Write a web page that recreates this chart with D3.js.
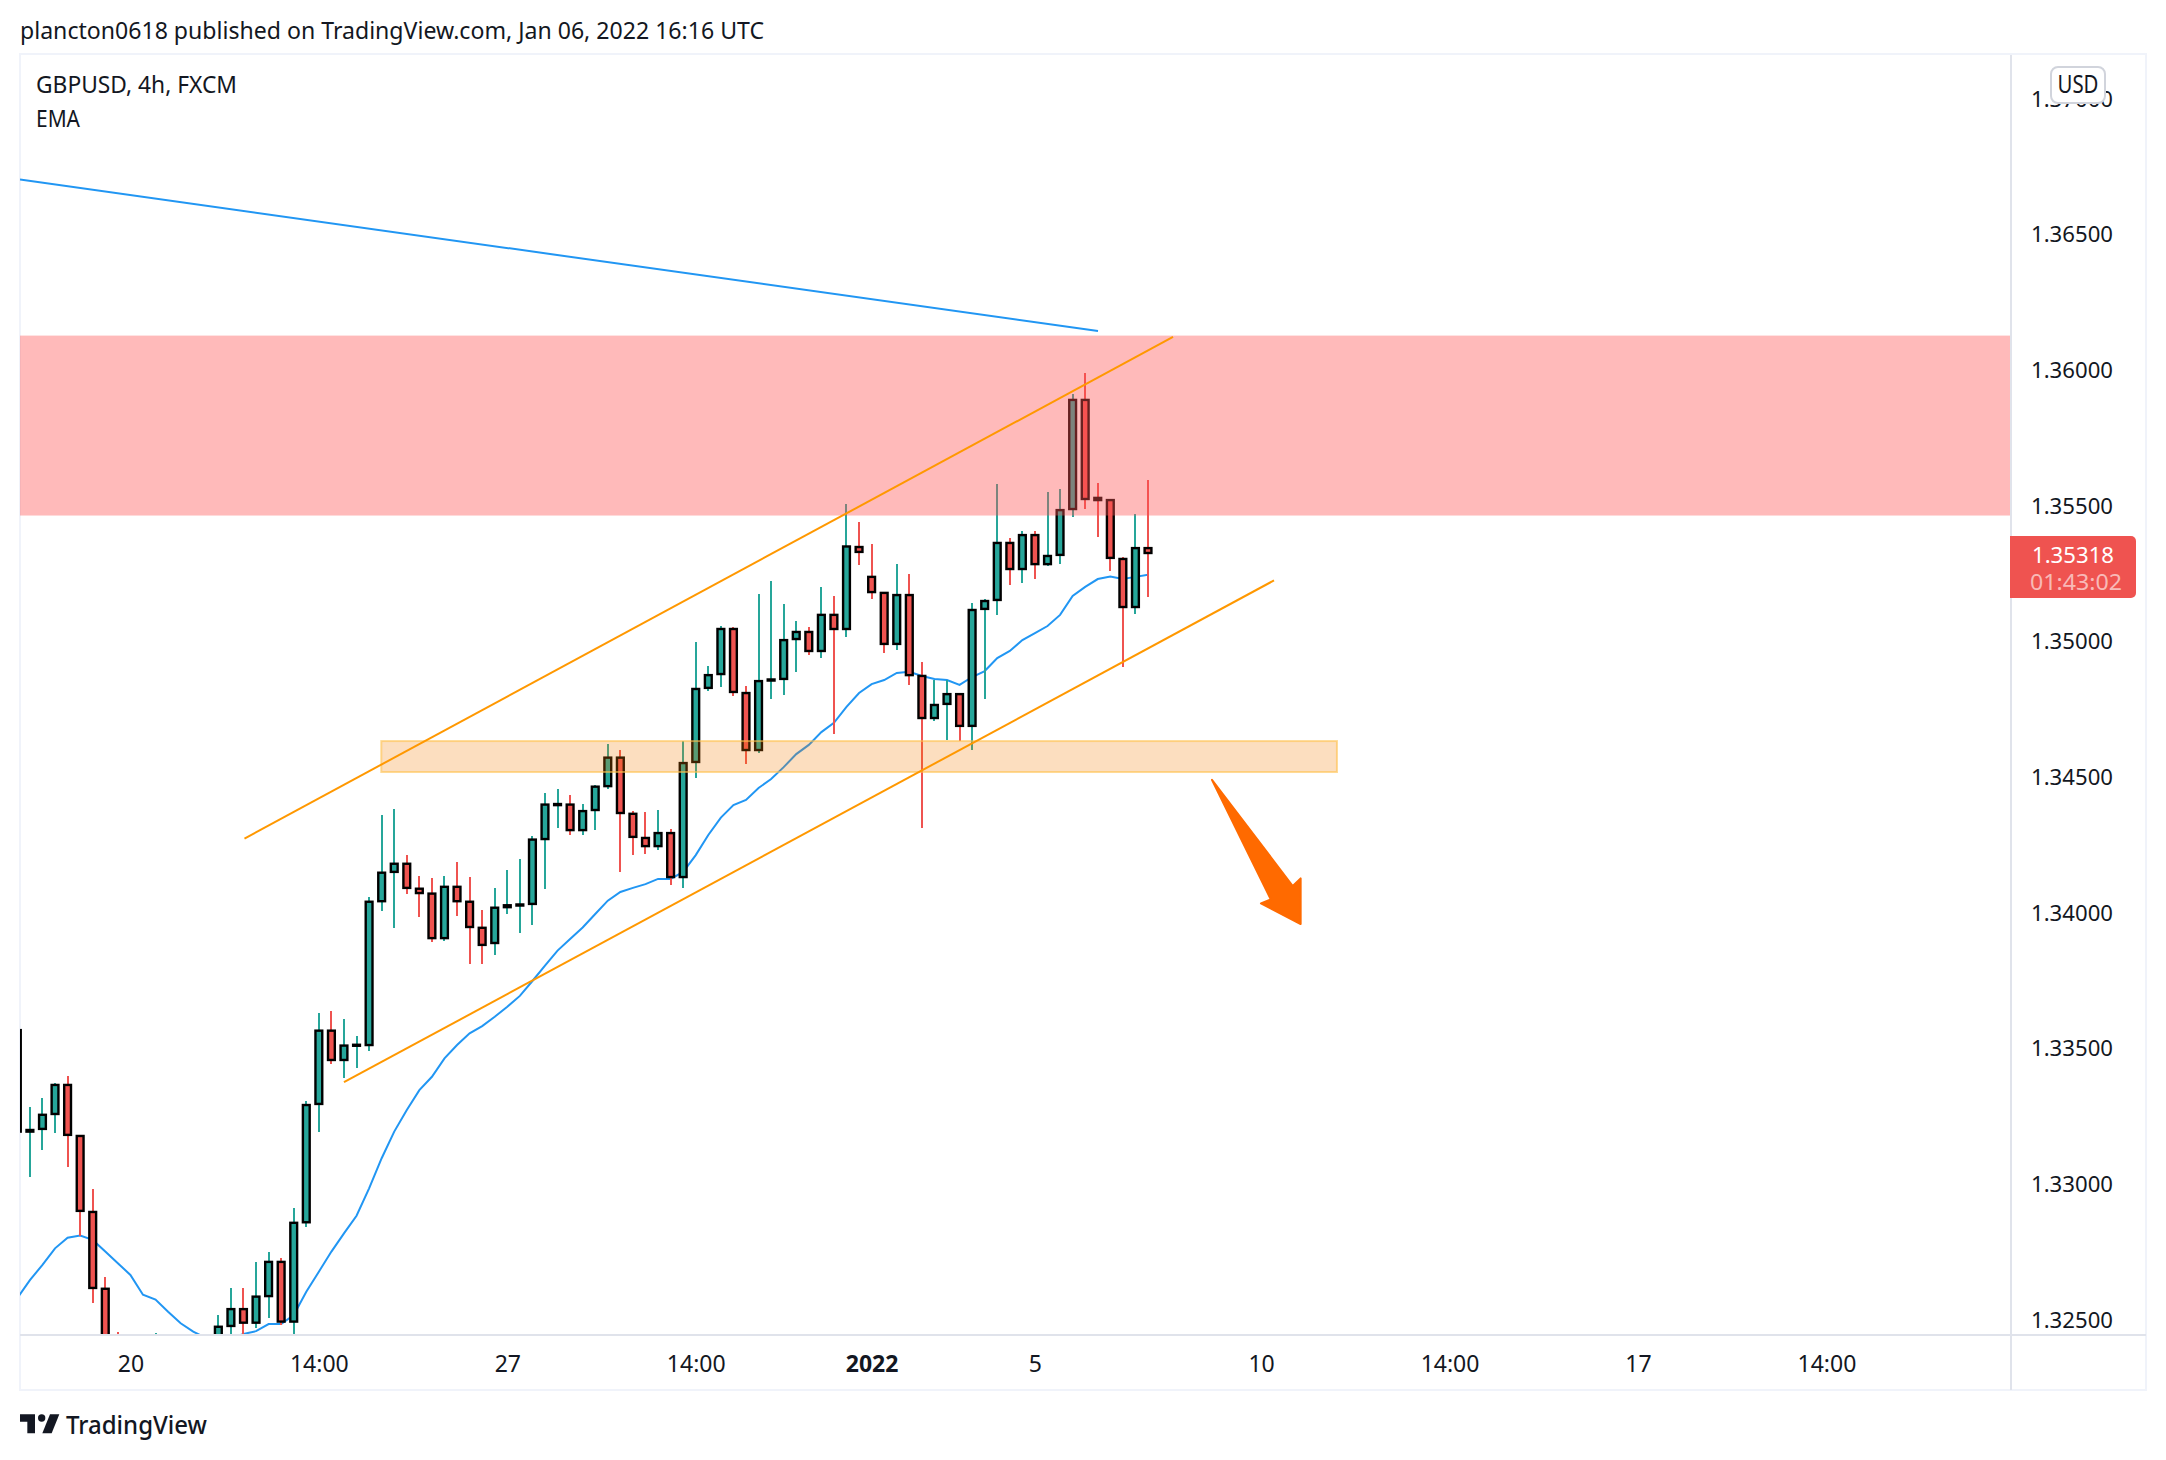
<!DOCTYPE html>
<html>
<head>
<meta charset="utf-8">
<script src="https://cdn.jsdelivr.net/npm/d3@7/dist/d3.min.js"></script>
<style>
html,body{margin:0;padding:0;background:#fff;}
svg{display:block;}
text{font-family:"Noto Sans",sans-serif;fill:#131722;}
</style>
</head>
<body>
<div id="chart"></div>
<script>
// ---- candle data (index = 4h bar count) ----
const open = [1.33560,1.33186,1.33196,1.33251,1.33358,1.33170,1.32890,1.32607,1.32400,1.32380,
1.32330,1.32200,1.32350,1.32250,1.32300,1.32350,1.32390,1.32470,1.32532,1.32482,
1.32580,1.32706,1.32486,1.32852,1.33288,1.33558,1.33450,1.33503,1.33505,1.34035,
1.34143,1.34173,1.34081,1.34063,1.33899,1.34088,1.34033,1.33937,1.33881,1.34013,
1.34019,1.34025,1.34264,1.34389,1.34391,1.34297,1.34371,1.34459,1.34564,1.34357,
1.34268,1.34238,1.34286,1.34124,1.34548,1.34821,1.34872,1.35038,1.34802,1.34592,
1.34848,1.34854,1.35001,1.35027,1.34957,1.35090,1.35038,1.35340,1.35230,1.35171,
1.34983,1.35163,1.34865,1.34710,1.34762,1.34798,1.34681,1.35112,1.35145,1.35355,
1.35259,1.35384,1.35277,1.35311,1.35480,1.35882,1.35521,1.35513,1.35296,1.35119,1.35336];
const high = [1.33560,1.33278,1.33309,1.33364,1.33391,1.33170,1.32975,1.32649,1.32448,1.32420,
1.32400,1.32444,1.32400,1.32380,1.32400,1.32430,1.32510,1.32609,1.32609,1.32705,
1.32741,1.32719,1.32903,1.33299,1.33622,1.33629,1.33601,1.33538,1.34050,1.34353,
1.34375,1.34205,1.34128,1.34121,1.34128,1.34179,1.34124,1.34003,1.34084,1.34150,
1.34191,1.34275,1.34434,1.34448,1.34426,1.34393,1.34463,1.34614,1.34592,1.34367,
1.34364,1.34371,1.34301,1.34624,1.34990,1.34902,1.35049,1.35045,1.34828,1.35167,
1.35215,1.35130,1.35067,1.35045,1.35193,1.35160,1.35499,1.35432,1.35351,1.35171,
1.35277,1.35241,1.34916,1.34850,1.34850,1.34798,1.35134,1.35148,1.35572,1.35373,
1.35399,1.35399,1.35543,1.35554,1.35904,1.35981,1.35576,1.35513,1.35304,1.35462,1.35587];
const low = [1.33186,1.33020,1.33118,1.33182,1.33057,1.32803,1.32553,1.32300,1.32150,1.32150,
1.32150,1.32120,1.32200,1.32180,1.32260,1.32300,1.32350,1.32400,1.32400,1.32464,
1.32498,1.32474,1.32400,1.32836,1.33186,1.33436,1.33385,1.33422,1.33484,1.34000,
1.33936,1.34063,1.33978,1.33886,1.33889,1.33982,1.33805,1.33805,1.33838,1.33989,
1.33919,1.33948,1.34081,1.34306,1.34280,1.34280,1.34298,1.34448,1.34144,1.34206,
1.34210,1.34225,1.34096,1.34085,1.34490,1.34810,1.34824,1.34791,1.34541,1.34582,
1.34780,1.34795,1.34880,1.34942,1.34931,1.34651,1.35008,1.35274,1.35148,1.34950,
1.34961,1.34832,1.34305,1.34699,1.34629,1.34625,1.34592,1.34780,1.35090,1.35200,
1.35207,1.35222,1.35270,1.35277,1.35451,1.35480,1.35377,1.35252,1.34898,1.35093,1.35156];
const close = [1.33186,1.33192,1.33248,1.33358,1.33174,1.32894,1.32610,1.32345,1.32216,1.32220,
1.32200,1.32350,1.32250,1.32310,1.32360,1.32400,1.32467,1.32532,1.32482,1.32578,
1.32706,1.32486,1.32850,1.33284,1.33558,1.33450,1.33503,1.33506,1.34033,1.34140,
1.34173,1.34084,1.34065,1.33899,1.34088,1.34035,1.33940,1.33874,1.34011,1.34020,
1.34023,1.34262,1.34391,1.34393,1.34297,1.34367,1.34457,1.34564,1.34360,1.34272,
1.34238,1.34286,1.34124,1.34544,1.34817,1.34868,1.35038,1.34806,1.34592,1.34846,
1.34852,1.34997,1.35027,1.34957,1.35090,1.35038,1.35342,1.35322,1.35174,1.34983,
1.35163,1.34868,1.34710,1.34758,1.34798,1.34681,1.35108,1.35141,1.35355,1.35259,
1.35384,1.35277,1.35307,1.35476,1.35882,1.35517,1.35513,1.35300,1.35119,1.35336,1.35318];
const ema = [1.32573,1.32639,1.32695,1.32756,1.32795,1.32803,1.32787,1.32744,1.32701,1.32658,
1.32585,1.32567,1.32522,1.32480,1.32449,1.32426,1.32412,1.32426,1.32440,1.32451,
1.32477,1.32477,1.32510,1.32596,1.32670,1.32744,1.32811,1.32876,1.32977,1.33088,
1.33186,1.33266,1.33339,1.33388,1.33456,1.33505,1.33548,1.33575,1.33609,1.33646,
1.33686,1.33741,1.33798,1.33853,1.33896,1.33938,1.33988,1.34037,1.34069,1.34084,
1.34098,1.34117,1.34117,1.34143,1.34205,1.34279,1.34343,1.34389,1.34408,1.34452,
1.34485,1.34529,1.34577,1.34611,1.34658,1.34692,1.34751,1.34802,1.34835,1.34850,
1.34876,1.34880,1.34865,1.34854,1.34850,1.34832,1.34861,1.34883,1.34931,1.34957,
1.34997,1.35023,1.35049,1.35090,1.35160,1.35193,1.35222,1.35231,1.35222,1.35230,1.35238];

// ---- axes ----
const priceTicks = [1.325,1.33,1.335,1.34,1.345,1.35,1.355,1.36,1.365,1.37];
const timeTickIndex = [9,24,39,54,68,81,99,114,129,144];
const timeTickLabels = ["20","14:00","27","14:00","2022","5","10","14:00","17","14:00"];

// ---- drawings, anchored at [bar index, price] ----
const blueTrend = [[0.21,1.36694],[86.02,1.36136]];
const channelTop = [[18.08,1.34266],[91.99,1.36114]];
const channelBottom = [[26.0,1.33368],[100.03,1.35217]];
const redZonePrices = [1.36119,1.35456];
const orangeZonePrices = [1.34625,1.34511];
const orangeZoneBars = [28.97,105.04];
const arrow = [[95.09,1.34482],[101.52,1.34091],[102.15,1.34119],[102.15,1.33951],[98.99,1.34027],[99.77,1.34042]];
const lastPrice = 1.35318;

// ---- frame geometry ----
const W = 2166, H = 1460;
const L = 20, R = 2011, T = 55, B = 1334;

const x = d3.scaleLinear().domain([0,100]).range([17.34,1273.64]);
const y = d3.scaleLinear().domain([1.32,1.37]).range([1453.5,96.5]);

const svg = d3.select("#chart").append("svg").attr("width",W).attr("height",H);

svg.append("defs").append("clipPath").attr("id","plot")
  .append("rect").attr("x",L).attr("y",T).attr("width",R-L).attr("height",B-T);

// outer frame
svg.append("rect").attr("x",20).attr("y",54).attr("width",2126).attr("height",1336)
  .attr("fill","none").attr("stroke","#f0f3fa").attr("stroke-width",2);

const plot = svg.append("g").attr("clip-path","url(#plot)");
const line = d3.line().x(d=>x(d[0])).y(d=>y(d[1]));

// EMA
plot.append("path").datum(ema.map((v,i)=>[i,v])).attr("d",line)
  .attr("fill","none").attr("stroke","#2196f3").attr("stroke-width",2);

// candles
const TEAL="#26a69a", RED="#ef5350";
const bars = d3.range(open.length);
const col = i => close[i]>=open[i]?TEAL:RED;
plot.append("g").selectAll("line").data(bars).join("line")
  .attr("x1",i=>x(i)).attr("x2",i=>x(i))
  .attr("y1",i=>y(high[i])).attr("y2",i=>y(low[i]))
  .attr("stroke",col).attr("stroke-width",2).attr("shape-rendering","crispEdges");
plot.append("g").selectAll("rect").data(bars).join("rect")
  .attr("x",i=>x(i)-3.4).attr("width",6.8)
  .attr("y",i=>y(Math.max(open[i],close[i])))
  .attr("height",i=>Math.max(1,Math.abs(y(open[i])-y(close[i]))))
  .attr("fill",col).attr("stroke","#000").attr("stroke-width",2.4);

// zones
plot.append("rect").attr("x",L).attr("width",R-L)
  .attr("y",y(redZonePrices[0])).attr("height",y(redZonePrices[1])-y(redZonePrices[0]))
  .attr("fill","rgba(255,82,82,0.4)");
plot.append("rect").attr("x",x(orangeZoneBars[0])).attr("width",x(orangeZoneBars[1])-x(orangeZoneBars[0]))
  .attr("y",y(orangeZonePrices[0])).attr("height",y(orangeZonePrices[1])-y(orangeZonePrices[0]))
  .attr("fill","rgba(245,124,0,0.25)").attr("stroke","rgba(255,193,77,0.6)").attr("stroke-width",2);

// trend lines
plot.append("path").datum(blueTrend).attr("d",line).attr("fill","none").attr("stroke","#2196f3").attr("stroke-width",2);
plot.append("path").datum(channelTop).attr("d",line).attr("fill","none").attr("stroke","#ff9800").attr("stroke-width",2);
plot.append("path").datum(channelBottom).attr("d",line).attr("fill","none").attr("stroke","#ff9800").attr("stroke-width",2);
plot.append("path").datum(arrow).attr("d",d=>line(d)+"Z")
  .attr("fill","#ff6a00").attr("stroke","#ff6a00").attr("stroke-width",2).attr("stroke-linejoin","round");

// axis separators
svg.append("line").attr("x1",R).attr("x2",R).attr("y1",55).attr("y2",1390).attr("stroke","#e0e3eb").attr("stroke-width",2);
svg.append("line").attr("x1",L).attr("x2",2146).attr("y1",1335).attr("y2",1335).attr("stroke","#e0e3eb").attr("stroke-width",2);

// price axis
const yAxis = svg.append("g").attr("transform",`translate(${R},2.5)`)
  .call(d3.axisRight(y).tickValues(priceTicks).tickFormat(d3.format(".5f")).tickSize(0).tickPadding(20));
yAxis.select(".domain").remove();
yAxis.selectAll("text").style("font-family",'"Noto Sans",sans-serif').style("font-size","22px").style("fill","#131722")
  .attr("textLength",82).attr("lengthAdjust","spacingAndGlyphs");

// time axis
const xAxis = svg.append("g").attr("transform",`translate(0,${B})`)
  .call(d3.axisBottom(x).tickValues(timeTickIndex)
    .tickFormat((d,i)=>timeTickLabels[i]).tickSize(0).tickPadding(22));
xAxis.select(".domain").remove();
xAxis.selectAll("text").style("font-family",'"Noto Sans",sans-serif').style("font-size","23px").style("fill","#131722")
  .style("font-weight",d=>d===68?"700":"400");

// USD badge
svg.append("rect").attr("x",2051).attr("y",67).attr("width",54).attr("height",36).attr("rx",7)
  .attr("fill","#fff").attr("stroke","#d1d4dc").attr("stroke-width",2);
svg.append("text").attr("x",2078).attr("y",92.5).attr("text-anchor","middle")
  .style("font-size","25px").attr("textLength",41).attr("lengthAdjust","spacingAndGlyphs").text("USD");

// last price tag
const tagY = y(lastPrice);
svg.append("path")
  .attr("d",`M${R-1} ${tagY-17}H2131a5 5 0 0 1 5 5V${tagY+40}a5 5 0 0 1 -5 5H${R-1}Z`)
  .attr("fill","#ef5350");
svg.append("text").attr("x",2073).attr("y",tagY+10).attr("text-anchor","middle")
  .style("font-size","22px").style("fill","#fff").attr("textLength",82).attr("lengthAdjust","spacingAndGlyphs")
  .text(lastPrice.toFixed(5));
svg.append("text").attr("x",2076).attr("y",tagY+37.5).attr("text-anchor","middle")
  .style("font-size","22px").style("fill","rgba(255,255,255,0.6)").attr("textLength",92).attr("lengthAdjust","spacingAndGlyphs")
  .text("01:43:02");

// titles
svg.append("text").attr("x",20).attr("y",39).style("font-size","24px")
  .attr("textLength",744).attr("lengthAdjust","spacingAndGlyphs")
  .text("plancton0618 published on TradingView.com, Jan 06, 2022 16:16 UTC");
svg.append("text").attr("x",36).attr("y",92.5).style("font-size","23px")
  .attr("textLength",201).attr("lengthAdjust","spacingAndGlyphs").text("GBPUSD, 4h, FXCM");
svg.append("text").attr("x",36).attr("y",126.5).style("font-size","23px")
  .attr("textLength",44).attr("lengthAdjust","spacingAndGlyphs").text("EMA");

// TradingView mark
const logo = svg.append("g").attr("transform","translate(0,1320) scale(0.3333)").attr("fill","#131722");
logo.append("path").attr("d","M60 283H105V340H82V305H60Z");
logo.append("circle").attr("cx",125).attr("cy",294).attr("r",11);
logo.append("path").attr("d","M150 283H178L155 340H127Z");
svg.append("text").attr("x",66).attr("y",1434).style("font-size","25px").style("font-weight","500")
  .attr("textLength",141).attr("lengthAdjust","spacingAndGlyphs").text("TradingView");
</script>
</body>
</html>
